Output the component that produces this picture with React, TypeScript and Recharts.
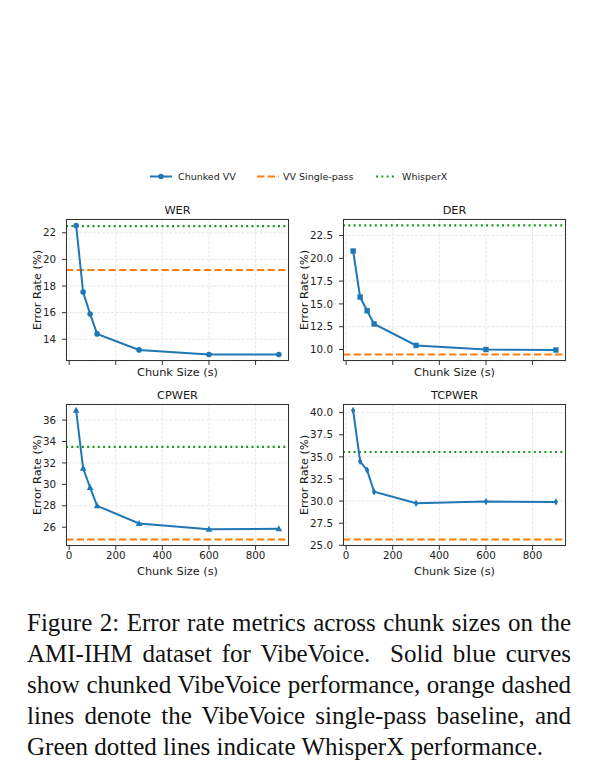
import React from 'react';
import { LineChart, Line, XAxis, YAxis, CartesianGrid, ReferenceLine } from 'recharts';

const chunkSizes = [30, 60, 90, 120, 300, 600, 900];
const werValues = [22.55, 17.55, 15.9, 14.4, 13.2, 12.85, 12.85];
const derValues = [20.8, 15.75, 14.25, 12.8, 10.45, 10.0, 9.95];
const cpwerValues = [36.9, 31.5, 29.7, 28.0, 26.35, 25.8, 25.85];
const tcpwerValues = [40.25, 34.5, 33.5, 31.05, 29.75, 29.95, 29.9];

const singlePass = { wer: 19.2, der: 9.45, cpwer: 24.85, tcpwer: 25.65 };
const whisperX = { wer: 22.5, der: 23.6, cpwer: 33.5, tcpwer: 35.55 };

const xTicks = [0, 200, 400, 600, 800];
const werTicks = [14, 16, 18, 20, 22];
const derTicks = [10, 12.5, 15, 17.5, 20, 22.5];
const cpwerTicks = [26, 28, 30, 32, 34, 36];
const tcpwerTicks = [25, 27.5, 30, 32.5, 35, 37.5, 40];

const captionLines = [
  'Figure 2: Error rate metrics across chunk sizes on the',
  'AMI-IHM dataset for VibeVoice.\u00a0 Solid blue curves',
  'show chunked VibeVoice performance, orange dashed',
  'lines denote the VibeVoice single-pass baseline, and',
  'Green dotted lines indicate WhisperX performance.',
];

const BLUE = '#1f77b4';
const ORANGE = '#ff7f0e';
const GREEN = '#1c961c';
const FONT = 'DejaVu Sans';
const PLOT_W = 223;
const PLOT_H = 142;

type MarkerKind = 'circle' | 'square' | 'triangle' | 'diamond';

function Marker({ cx, cy, kind }: { cx: number; cy: number; kind: MarkerKind }) {
  if (cx == null || cy == null) return null;
  if (kind === 'circle') return <circle cx={cx} cy={cy} r={2.8} fill={BLUE} />;
  if (kind === 'square') return <rect x={cx - 2.7} y={cy - 2.7} width={5.4} height={5.4} fill={BLUE} />;
  if (kind === 'triangle')
    return <polygon points={`${cx},${cy - 3.6} ${cx - 3.3},${cy + 2.4} ${cx + 3.3},${cy + 2.4}`} fill={BLUE} />;
  return <polygon points={`${cx},${cy - 3.6} ${cx + 2.2},${cy} ${cx},${cy + 3.6} ${cx - 2.2},${cy}`} fill={BLUE} />;
}

function padDomain(vals: number[]): [number, number] {
  const lo = Math.min(...vals);
  const hi = Math.max(...vals);
  const pad = (hi - lo) * 0.05;
  return [lo - pad, hi + pad];
}

interface PanelProps {
  title: string;
  values: number[];
  single: number;
  whisper: number;
  yTicks: number[];
  decimals: number;
  marker: MarkerKind;
  left: number;
  top: number;
  labelX: number;
  showXLabels: boolean;
}

function Panel({ title, values, single, whisper, yTicks, decimals, marker, left, top, labelX, showXLabels }: PanelProps) {
  const data = chunkSizes.map((x, i) => ({ x, y: values[i] }));
  const yDomain = padDomain([...values, single, whisper]);
  const xDomain = padDomain(chunkSizes);
  const textStyle: React.CSSProperties = { position: 'absolute', fontFamily: FONT, fontSize: 11.3, color: '#1a1a1a', whiteSpace: 'nowrap', lineHeight: '14px' };
  return (
    <>
      <div style={{ ...textStyle, left, top: top - 15.5, width: PLOT_W, textAlign: 'center' }}>{title}</div>
      <div style={{ position: 'absolute', left: left - 50, top: top - 10 }}>
        <LineChart width={PLOT_W + 60} height={PLOT_H + 40} data={data} margin={{ top: 10, right: 10, bottom: 0, left: 0 }}>
          <CartesianGrid stroke="#b0b0b0" strokeOpacity={0.35} strokeDasharray="3 1.5" strokeWidth={0.8} />
          <XAxis
            dataKey="x"
            type="number"
            domain={xDomain}
            ticks={xTicks}
            allowDataOverflow
            height={30}
            axisLine={false}
            tickLine={{ stroke: '#333' }}
            tickSize={4}
            tickMargin={2}
            tick={{ fontFamily: FONT, fontSize: 10.3, fill: '#222' }}
            tickFormatter={(v: number) => (showXLabels ? String(v) : '')}
          />
          <YAxis
            type="number"
            domain={yDomain}
            ticks={yTicks}
            allowDataOverflow
            width={50}
            axisLine={false}
            tickLine={{ stroke: '#333' }}
            tickSize={4}
            tickMargin={6}
            tick={{ fontFamily: FONT, fontSize: 10.3, fill: '#222' }}
            tickFormatter={(v: number) => v.toFixed(decimals)}
          />
          <ReferenceLine y={single} stroke={ORANGE} strokeWidth={2} strokeDasharray="7.4 3.2" />
          <ReferenceLine y={whisper} stroke={GREEN} strokeWidth={2.2} strokeDasharray="2 3.3" />
          <Line
            dataKey="y"
            stroke={BLUE}
            strokeWidth={2}
            isAnimationActive={false}
            activeDot={false}
            dot={(p: any) => <Marker key={`m${p.index}`} cx={p.cx} cy={p.cy} kind={marker} />}
          />
        </LineChart>
      </div>
      <div style={{ position: 'absolute', left, top, width: PLOT_W, height: PLOT_H, border: '1px solid #333', boxSizing: 'border-box' }} />
      <div style={{ ...textStyle, left, top: top + PLOT_H + (showXLabels ? 19 : 5), width: PLOT_W, textAlign: 'center' }}>Chunk Size (s)</div>
      <div style={{ ...textStyle, left: labelX - PLOT_H / 2, top: top + PLOT_H / 2 - 7, width: PLOT_H, textAlign: 'center', transform: 'rotate(-90deg)' }}>
        Error Rate (%)
      </div>
    </>
  );
}

function Legend() {
  return (
    <svg style={{ position: 'absolute', left: 140, top: 166 }} width={320} height={22}>
      <line x1={10} y1={10.5} x2={32} y2={10.5} stroke={BLUE} strokeWidth={2} />
      <circle cx={21} cy={10.5} r={2.8} fill={BLUE} />
      <text x={38} y={14} fontFamily={FONT} fontSize={9.5} fill="#222">Chunked VV</text>
      <line x1={117} y1={10.5} x2={139} y2={10.5} stroke={ORANGE} strokeWidth={2} strokeDasharray="7.4 3.2" />
      <text x={143} y={14} fontFamily={FONT} fontSize={9.5} fill="#222">VV Single-pass</text>
      <line x1={236} y1={10.5} x2={256} y2={10.5} stroke={GREEN} strokeWidth={2.2} strokeDasharray="2 3.3" />
      <text x={262} y={14} fontFamily={FONT} fontSize={9.5} fill="#222">WhisperX</text>
    </svg>
  );
}

export default function App() {
  return (
    <div style={{ position: 'absolute', left: 0, top: 0, width: 597, height: 771, background: '#fff' }}>
      <Legend />
      <Panel title="WER" values={werValues} single={singlePass.wer} whisper={whisperX.wer} yTicks={werTicks} decimals={0} marker="circle" left={66} top={219} labelX={38} showXLabels={false} />
      <Panel title="DER" values={derValues} single={singlePass.der} whisper={whisperX.der} yTicks={derTicks} decimals={1} marker="square" left={343} top={219} labelX={305} showXLabels={false} />
      <Panel title="CPWER" values={cpwerValues} single={singlePass.cpwer} whisper={whisperX.cpwer} yTicks={cpwerTicks} decimals={0} marker="triangle" left={66} top={404} labelX={38} showXLabels />
      <Panel title="TCPWER" values={tcpwerValues} single={singlePass.tcpwer} whisper={whisperX.tcpwer} yTicks={tcpwerTicks} decimals={1} marker="diamond" left={343} top={404} labelX={305} showXLabels />
      <div style={{ position: 'absolute', left: 27, top: 606.5, width: 544, fontFamily: '"Liberation Serif", serif', fontSize: 25, lineHeight: '31px', color: '#111' }}>
        {captionLines.map((line, i) => (
          <div
            key={i}
            style={{ textAlign: i < captionLines.length - 1 ? 'justify' : 'left', textAlignLast: i < captionLines.length - 1 ? 'justify' : 'left', whiteSpace: 'nowrap' }}
          >
            {line}
          </div>
        ))}
      </div>
    </div>
  );
}
